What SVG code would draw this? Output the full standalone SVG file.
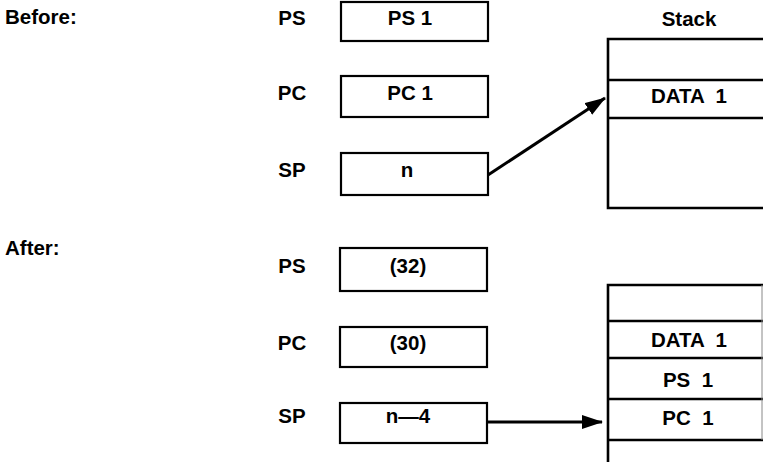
<svg xmlns="http://www.w3.org/2000/svg" width="763" height="462" viewBox="0 0 763 462">
<defs>
<marker id="ah" markerUnits="userSpaceOnUse" markerWidth="22" markerHeight="14" refX="20" refY="7" orient="auto">
<path d="M0,0 L21,7 L0,14 z" fill="#000"/>
</marker>
<style>
text{font-family:"Liberation Sans",Arial,sans-serif;font-size:20.5px;font-weight:bold;fill:#000}
.c{text-anchor:middle}
.box{fill:#fff;stroke:#000;stroke-width:2.2}
.stk{fill:none;stroke:#000;stroke-width:2.6}
.con{stroke:#000;stroke-width:3;fill:none}
</style>
</defs>
<rect width="763" height="462" fill="#fff"/>
<text x="5" y="24">Before:</text>
<text x="5" y="255">After:</text>
<g id="before-ps"><text class="c" x="292" y="25">PS</text><rect class="box" x="341" y="2" width="147" height="39"/><text class="c" x="410" y="25">PS 1</text></g>
<g id="before-pc"><text class="c" x="292" y="100">PC</text><rect class="box" x="341" y="76" width="147" height="41"/><text class="c" x="410" y="100">PC 1</text></g>
<g id="before-sp"><text class="c" x="292" y="177">SP</text><rect class="box" x="341" y="153" width="147" height="42"/><text class="c" x="407" y="177">n</text></g>
<g id="before-stack">
<text class="c" x="689" y="26">Stack</text>
<path class="stk" d="M763,39 H608 V208 H763 M608,80 H763 M608,118 H763"/>
<text class="c" x="689" y="103" xml:space="preserve">DATA  1</text>
</g>
<g id="after-ps"><text class="c" x="292" y="273">PS</text><rect class="box" x="340" y="248" width="147" height="43"/><text class="c" x="408" y="273">(32)</text></g>
<g id="after-pc"><text class="c" x="292" y="350">PC</text><rect class="box" x="340" y="327" width="147" height="40"/><text class="c" x="408" y="350">(30)</text></g>
<g id="after-sp"><text class="c" x="292" y="423">SP</text><rect class="box" x="340" y="403" width="147" height="40"/><text class="c" x="408" y="423">n—4</text></g>
<g id="after-stack">
<path class="stk" d="M763,285 H608 V462 M608,321 H763 M608,358 H763 M608,399 H763 M608,440 H763"/>
<line x1="762" y1="285" x2="762" y2="440" stroke="#888" stroke-width="1"/>
<text class="c" x="689" y="347" xml:space="preserve">DATA  1</text>
<text class="c" x="688" y="387" xml:space="preserve">PS  1</text>
<text class="c" x="688" y="425" xml:space="preserve">PC  1</text>
</g>
<g id="connectors">
<line class="con" x1="488" y1="175" x2="605" y2="98" marker-end="url(#ah)"/>
<line class="con" x1="488" y1="422" x2="602" y2="422" marker-end="url(#ah)"/>
</g>
</svg>
